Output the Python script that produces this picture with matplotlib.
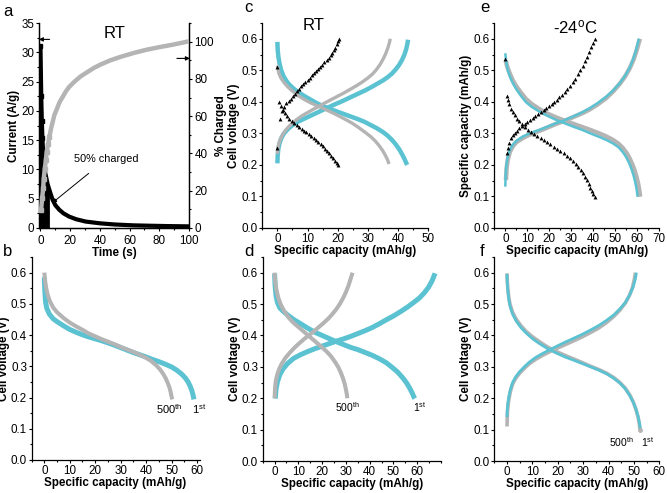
import numpy as np
import matplotlib
matplotlib.use('Agg')
import matplotlib.pyplot as plt
from matplotlib.ticker import MultipleLocator

plt.rcParams['font.family'] = ['Liberation Sans', 'DejaVu Sans']
plt.rcParams['font.size'] = 8
plt.rcParams['mathtext.default'] = 'regular'
plt.rcParams['axes.facecolor'] = 'none'

BLUE = '#5bc2d2'
GREY = '#b4b4b4'

# ---- panel a : current and % charged vs time
t_cur = [0.0, 0.5, 0.9, 1.3, 1.8, 2.4, 3.0, 3.8, 4.8, 6.0, 7.0, 8.2, 10.0, 12.7, 15.5, 19.3, 24.0, 30.4, 40.0, 50.0, 62.7, 75.0, 85.0, 100.0]
current = [31.0, 22.6, 18.3, 15.3, 12.8, 10.8, 9.6, 8.7, 7.5, 6.5, 5.7, 4.8, 3.9, 3.1, 2.5, 1.95, 1.5, 1.1, 0.8, 0.6, 0.45, 0.38, 0.33, 0.28]
t_pct = [0.4, 1.1, 1.8, 2.2, 2.9, 3.6, 4.2, 5.1, 6.0, 7.1, 8.2, 9.3, 11.1, 12.9, 14.9, 17.1, 19.3, 22.7, 27.1, 31.6, 36.0, 40.4, 47.1, 53.8, 62.7, 71.6, 80.4, 89.3, 100.0]
pct_charged = [9.7, 15.9, 21.2, 26.5, 31.8, 36.3, 40.8, 45.3, 48.8, 53.3, 56.9, 60.5, 64.0, 67.6, 70.3, 73.3, 75.7, 78.4, 81.4, 83.7, 85.9, 87.7, 90.0, 91.8, 93.9, 95.7, 97.1, 98.4, 100.2]

# ---- panel b : discharge, 1st vs 500th cycle
b_cap_1st = [0.0, 0.2, 0.5, 1.0, 2.0, 3.5, 5.0, 7.5, 10, 12.5, 15, 17.5, 20, 22.5, 25, 27.5, 30, 32.5, 35, 37.5, 40, 42.5, 45, 47.5, 50, 52, 54, 55.5, 56.5, 57.3, 58.0, 58.5, 58.8]
b_v_1st = [0.585, 0.54, 0.505, 0.485, 0.467, 0.452, 0.443, 0.43, 0.418, 0.409, 0.401, 0.394, 0.388, 0.382, 0.375, 0.368, 0.36, 0.352, 0.344, 0.337, 0.33, 0.322, 0.315, 0.307, 0.298, 0.288, 0.275, 0.262, 0.25, 0.237, 0.222, 0.207, 0.194]
b_cap_500 = [0.0, 0.3, 0.7, 1.3, 2.2, 3.5, 5.0, 7.5, 10, 12.5, 15, 17.5, 20, 22.5, 25, 27.5, 30, 32.5, 35, 37.5, 40, 42, 44, 45.5, 46.7, 47.7, 48.5, 49.2, 49.7, 50.1, 50.3]
b_v_500 = [0.60, 0.575, 0.552, 0.53, 0.508, 0.488, 0.473, 0.455, 0.44, 0.428, 0.417, 0.405, 0.396, 0.387, 0.379, 0.371, 0.362, 0.354, 0.346, 0.337, 0.327, 0.317, 0.303, 0.29, 0.276, 0.262, 0.247, 0.232, 0.216, 0.20, 0.194]

# ---- panel c : RT charge/discharge
c_dis_cap_blue = [0.0, 0.1, 0.3, 0.7, 1.2, 2.0, 3.0, 4.0, 5.5, 7.0, 9.0, 11, 13, 15, 17, 19, 21, 23, 25, 27, 29, 31, 33, 35, 36.5, 38, 39.3, 40.4, 41.3, 42.1, 42.7, 43.0]
c_dis_v_blue = [0.59, 0.565, 0.545, 0.522, 0.502, 0.482, 0.466, 0.454, 0.441, 0.43, 0.418, 0.407, 0.396, 0.387, 0.379, 0.372, 0.365, 0.358, 0.351, 0.344, 0.336, 0.326, 0.316, 0.304, 0.293, 0.279, 0.264, 0.249, 0.234, 0.219, 0.206, 0.20]
c_dis_cap_grey = [0.0, 0.5, 1.2, 2.2, 3.5, 5.0, 7.0, 9.0, 11, 13, 15, 17, 19, 21, 23, 25, 27, 29, 31, 32.5, 33.8, 34.9, 35.8, 36.5, 37.0]
c_dis_v_grey = [0.515, 0.49, 0.475, 0.461, 0.447, 0.434, 0.419, 0.407, 0.397, 0.388, 0.38, 0.371, 0.362, 0.352, 0.342, 0.331, 0.318, 0.304, 0.289, 0.275, 0.26, 0.245, 0.23, 0.216, 0.203]
c_chg_cap_blue = [0.0, 0.1, 0.3, 0.7, 1.3, 2.2, 3.5, 5.0, 7.0, 9.0, 11, 13, 15, 17, 19, 21, 23, 25, 27, 29, 31, 33, 35, 36.5, 38, 39.3, 40.4, 41.3, 42.1, 42.7, 43.1, 43.3]
c_chg_v_blue = [0.205, 0.23, 0.25, 0.268, 0.285, 0.30, 0.314, 0.326, 0.338, 0.347, 0.356, 0.365, 0.374, 0.383, 0.392, 0.40, 0.409, 0.418, 0.427, 0.436, 0.446, 0.457, 0.468, 0.478, 0.49, 0.504, 0.518, 0.533, 0.55, 0.568, 0.585, 0.597]
c_chg_cap_grey = [0.0, 0.2, 0.5, 1.0, 1.8, 2.8, 4.0, 6.0, 8.0, 10, 12, 14, 16, 18, 20, 22, 24, 26, 28, 30, 31.5, 32.8, 34, 35, 35.9, 36.6, 37.1, 37.4]
c_chg_v_grey = [0.235, 0.255, 0.268, 0.282, 0.297, 0.311, 0.324, 0.341, 0.355, 0.366, 0.377, 0.387, 0.398, 0.408, 0.418, 0.428, 0.439, 0.45, 0.462, 0.476, 0.488, 0.502, 0.518, 0.535, 0.553, 0.571, 0.587, 0.60]
c_chg_cap_tri = [0.0, 0.9, 1.6, 2.3, 3.0, 3.7, 4.4, 5.1, 5.8, 6.5, 7.2, 7.9, 8.6, 9.3, 10.0, 10.7, 11.4, 12.1, 12.8, 13.5, 14.2, 14.9, 15.6, 16.3, 17.0, 17.6, 18.2, 18.7, 19.2, 19.6, 20.0, 20.3]
c_chg_v_tri = [0.255, 0.345, 0.372, 0.385, 0.395, 0.403, 0.41, 0.418, 0.426, 0.433, 0.441, 0.449, 0.456, 0.463, 0.47, 0.477, 0.484, 0.491, 0.497, 0.504, 0.511, 0.518, 0.525, 0.532, 0.539, 0.547, 0.555, 0.563, 0.572, 0.582, 0.592, 0.60]
c_dis_cap_tri = [0.0, 0.6, 1.2, 1.8, 2.5, 3.2, 4.0, 4.8, 5.6, 6.4, 7.2, 8.0, 8.8, 9.6, 10.4, 11.2, 12.0, 12.8, 13.6, 14.4, 15.1, 15.8, 16.5, 17.2, 17.8, 18.4, 19.0, 19.6, 20.2]
c_dis_v_tri = [0.51, 0.40, 0.386, 0.375, 0.364, 0.355, 0.347, 0.34, 0.333, 0.327, 0.321, 0.315, 0.309, 0.303, 0.297, 0.291, 0.285, 0.279, 0.273, 0.266, 0.259, 0.252, 0.245, 0.237, 0.229, 0.221, 0.213, 0.206, 0.20]

# ---- panel d : 1st vs 500th charge/discharge
d_dis_cap_1st = [0.0, 0.2, 0.6, 1.2, 2.2, 3.5, 5.5, 8, 11, 14, 17, 20, 23, 26, 29, 32, 35, 38, 41, 44, 47, 49.5, 51.8, 53.8, 55.4, 56.7, 57.8, 58.6, 59.0]
d_dis_v_1st = [0.597, 0.56, 0.527, 0.505, 0.488, 0.478, 0.465, 0.451, 0.437, 0.423, 0.41, 0.40, 0.39, 0.38, 0.371, 0.362, 0.355, 0.346, 0.337, 0.326, 0.313, 0.298, 0.283, 0.266, 0.25, 0.234, 0.218, 0.204, 0.199]
d_chg_cap_1st = [0.3, 0.6, 1.2, 2.2, 3.5, 5.5, 8, 11, 14, 17, 20, 23, 26, 29, 32, 35, 38, 41, 44, 47, 50, 53, 56, 58.5, 61, 63, 64.8, 66.3, 67.5]
d_chg_v_1st = [0.199, 0.228, 0.252, 0.275, 0.293, 0.311, 0.327, 0.339, 0.349, 0.358, 0.366, 0.374, 0.382, 0.389, 0.397, 0.406, 0.415, 0.425, 0.437, 0.45, 0.462, 0.476, 0.491, 0.505, 0.52, 0.536, 0.554, 0.575, 0.598]
d_dis_cap_500 = [0.0, 0.3, 0.8, 1.5, 2.5, 4, 6, 8, 10, 12, 14, 16, 18, 20, 22, 23.8, 25.4, 26.8, 27.9, 28.8, 29.5, 30.0, 30.4, 30.6]
d_dis_v_500 = [0.60, 0.57, 0.545, 0.522, 0.50, 0.478, 0.456, 0.44, 0.427, 0.414, 0.401, 0.388, 0.375, 0.362, 0.348, 0.333, 0.316, 0.299, 0.281, 0.263, 0.245, 0.228, 0.212, 0.20]
d_chg_cap_500 = [0.0, 0.2, 0.5, 1.0, 1.8, 3, 4.5, 6.5, 8.5, 10.5, 12.5, 14.5, 16.5, 18.5, 20.5, 22.5, 24.3, 26, 27.5, 28.8, 30, 31, 31.8, 32.5, 32.8]
d_chg_v_500 = [0.20, 0.232, 0.255, 0.272, 0.291, 0.31, 0.328, 0.346, 0.362, 0.376, 0.389, 0.401, 0.413, 0.426, 0.439, 0.453, 0.468, 0.484, 0.501, 0.519, 0.538, 0.557, 0.576, 0.593, 0.60]

# ---- panel e : -24 C
e_dis_cap_blue = [0.0, 0.3, 0.7, 1.3, 2.2, 3.5, 5, 7, 9.4, 12, 15.5, 19, 23, 27, 31, 35, 39, 43, 46, 49, 51.5, 53.5, 55, 56.3, 57.3, 58.2, 58.9, 59.5, 59.9, 60.1]
e_dis_v_blue = [0.554, 0.535, 0.515, 0.497, 0.478, 0.458, 0.44, 0.42, 0.399, 0.384, 0.369, 0.356, 0.343, 0.332, 0.321, 0.311, 0.299, 0.288, 0.279, 0.268, 0.256, 0.24, 0.224, 0.206, 0.188, 0.169, 0.15, 0.13, 0.113, 0.099]
e_dis_cap_grey = [0.3, 0.7, 1.3, 2.2, 3.5, 5, 7, 9.4, 12, 15.5, 19, 23, 27, 31, 35, 39, 43, 46, 49, 51.5, 53.5, 55.3, 56.7, 57.9, 58.9, 59.7, 60.4, 60.9, 61.3]
e_dis_v_grey = [0.53, 0.516, 0.503, 0.487, 0.467, 0.449, 0.43, 0.409, 0.393, 0.377, 0.363, 0.351, 0.34, 0.33, 0.32, 0.31, 0.299, 0.29, 0.279, 0.267, 0.253, 0.236, 0.218, 0.199, 0.18, 0.16, 0.14, 0.12, 0.099]
e_chg_cap_blue = [0.0, 0.1, 0.3, 0.6, 1.1, 2.0, 3.3, 5.0, 7.9, 11, 15.5, 19, 23, 27, 31, 35, 38.4, 42, 46, 49, 52, 54.5, 56.6, 58.1, 59.3, 60.1, 60.7]
e_chg_v_blue = [0.131, 0.155, 0.184, 0.205, 0.226, 0.246, 0.263, 0.276, 0.29, 0.30, 0.311, 0.321, 0.332, 0.342, 0.354, 0.367, 0.38, 0.396, 0.417, 0.436, 0.459, 0.483, 0.509, 0.535, 0.561, 0.583, 0.60]
e_chg_cap_grey = [0.3, 0.6, 1.1, 2.0, 3.3, 5.0, 7.9, 11, 15.5, 19, 23, 27, 31, 35, 38.4, 42, 46, 49, 52, 54.5, 56.6, 58.3, 59.6, 60.5, 61.2]
e_chg_v_grey = [0.152, 0.19, 0.216, 0.24, 0.258, 0.272, 0.285, 0.296, 0.308, 0.318, 0.33, 0.34, 0.352, 0.364, 0.376, 0.392, 0.413, 0.433, 0.457, 0.481, 0.507, 0.534, 0.561, 0.583, 0.60]
e_chg_cap_tri = [0.6, 1.2, 1.8, 2.6, 3.4, 4.2, 5.2, 6.4, 7.6, 8.8, 10.0, 11.2, 12.5, 13.7, 15.0, 16.2, 17.4, 18.6, 19.8, 21.0, 22.2, 23.4, 24.6, 25.8, 27.0, 28.2, 29.4, 30.6, 31.8, 32.9, 34.0, 35.1, 36.1, 37.1, 38.0, 38.9, 39.8, 40.6]
e_chg_v_tri = [0.237, 0.255, 0.27, 0.285, 0.294, 0.301, 0.309, 0.316, 0.323, 0.329, 0.335, 0.341, 0.348, 0.354, 0.361, 0.367, 0.373, 0.38, 0.386, 0.393, 0.40, 0.407, 0.414, 0.422, 0.43, 0.44, 0.45, 0.462, 0.474, 0.487, 0.50, 0.514, 0.528, 0.543, 0.558, 0.573, 0.588, 0.60]
e_dis_cap_tri = [0.0, 0.6, 1.2, 1.8, 2.6, 3.4, 4.3, 5.3, 6.4, 7.6, 8.8, 10.2, 11.6, 13.0, 14.5, 16.0, 17.5, 19.0, 20.5, 22.0, 23.5, 25.0, 26.5, 28.0, 29.4, 30.7, 32.0, 33.2, 34.3, 35.3, 36.2, 37.1, 37.9, 38.7, 39.4, 40.0, 40.6]
e_dis_v_tri = [0.535, 0.419, 0.405, 0.392, 0.378, 0.367, 0.357, 0.347, 0.338, 0.329, 0.32, 0.312, 0.305, 0.299, 0.292, 0.286, 0.279, 0.272, 0.265, 0.258, 0.251, 0.244, 0.237, 0.229, 0.221, 0.213, 0.204, 0.194, 0.184, 0.174, 0.163, 0.152, 0.14, 0.128, 0.117, 0.107, 0.099]

# ---- panel f : -24 C, 1st vs 500th
f_dis_cap_1st = [0.0, 0.1, 0.3, 0.7, 1.2, 2.2, 3.6, 5.5, 7.5, 10, 12.8, 16, 19.4, 23, 26, 29.5, 32.6, 36, 39.2, 42, 44.5, 46.6, 48.4, 49.8, 50.9, 51.7, 52.2, 52.6]
f_dis_v_1st = [0.596, 0.57, 0.545, 0.515, 0.493, 0.468, 0.446, 0.425, 0.408, 0.39, 0.374, 0.358, 0.344, 0.331, 0.322, 0.311, 0.301, 0.29, 0.278, 0.264, 0.248, 0.23, 0.208, 0.186, 0.163, 0.14, 0.12, 0.10]
f_chg_cap_1st = [0.0, 0.2, 0.7, 1.3, 2.2, 3.4, 4.9, 6.8, 8.8, 11.3, 14.1, 17, 19.4, 23, 26, 29.5, 32.6, 36, 39.2, 42, 44.5, 46.6, 48.4, 49.7, 50.5, 51.0]
f_chg_v_1st = [0.14, 0.175, 0.204, 0.227, 0.25, 0.268, 0.284, 0.30, 0.315, 0.33, 0.343, 0.355, 0.365, 0.379, 0.39, 0.403, 0.416, 0.431, 0.448, 0.465, 0.485, 0.505, 0.53, 0.555, 0.578, 0.60]
f_dis_cap_500 = [0.0, 0.1, 0.3, 0.7, 1.2, 2.2, 3.6, 5.5, 7.5, 10, 12.8, 16, 19.4, 23, 26, 29.5, 32.6, 36, 39.2, 42, 44.5, 46.6, 48.4, 49.8, 50.8, 51.6, 52.1, 52.4]
f_dis_v_500 = [0.598, 0.575, 0.552, 0.522, 0.499, 0.474, 0.452, 0.431, 0.413, 0.396, 0.38, 0.363, 0.349, 0.336, 0.326, 0.314, 0.303, 0.292, 0.28, 0.266, 0.25, 0.232, 0.21, 0.187, 0.164, 0.141, 0.12, 0.10]
f_chg_cap_500 = [0.0, 0.2, 0.7, 1.3, 2.2, 3.4, 4.9, 6.8, 8.8, 11.3, 14.1, 17, 19.4, 23, 26, 29.5, 32.6, 36, 39.2, 42, 44.5, 46.6, 48.2, 49.4, 50.1, 50.6]
f_chg_v_500 = [0.11, 0.16, 0.195, 0.22, 0.245, 0.263, 0.279, 0.295, 0.31, 0.324, 0.337, 0.349, 0.358, 0.371, 0.382, 0.395, 0.408, 0.423, 0.441, 0.46, 0.481, 0.503, 0.527, 0.552, 0.576, 0.60]

W, H = 667, 493
fig = plt.figure(figsize=(W / 100, H / 100), dpi=100, facecolor='white')
TICK_FS = 8.4
LAB_FS = 8.4


def px_axes(x0, x1, ytop, ybot):
    return fig.add_axes([x0 / W, 1 - ybot / H, (x1 - x0) / W, (ybot - ytop) / H])


def style(ax, right=False):
    ax.spines['top'].set_visible(False)
    if not right:
        ax.spines['right'].set_visible(False)
    for s in ax.spines.values():
        s.set_linewidth(0.9)
    ax.tick_params(which='major', direction='out', length=2.5, width=0.8, labelsize=TICK_FS, pad=0.8)
    ax.tick_params(which='minor', direction='out', length=1.5, width=0.8)


def volt_axes(ax, xmax, xlab='Specific capacity (mAh/g)', ylab='Cell voltage (V)', ylpad=1):
    ax.set_ylim(0, 0.65)
    ax.set_xlim(-5, xmax)
    ax.yaxis.set_minor_locator(MultipleLocator(0.05))
    ax.xaxis.set_major_locator(MultipleLocator(10))
    ax.xaxis.set_minor_locator(MultipleLocator(5))
    ax.set_yticks(np.arange(0, 0.61, 0.1))
    ax.set_yticklabels(['0.0', '0.1', '0.2', '0.3', '0.4', '0.5', '0.6'])
    ax.set_xlabel(xlab, fontweight='bold', fontsize=LAB_FS, labelpad=0.5)
    ax.set_ylabel(ylab, fontweight='bold', fontsize=LAB_FS, labelpad=ylpad)
    style(ax)


# a
ax = px_axes(39, 189, 23, 228)
ax.set_xlim(-1, 100)
ax.set_ylim(0, 35)
t_arr = np.array(t_cur)
i_arr = np.array(current)
early = t_arr <= 6.0
ax.fill_between(t_arr[early], 0, i_arr[early], color='black', lw=0)
ax.plot(t_arr, i_arr, color='black', lw=3, solid_capstyle='butt')
ax.plot([0, 0], [0, current[0]], color='black', lw=1.5)
ax.plot(t_cur[:4], current[:4], 's', color='black', ms=2.5)
ax.xaxis.set_major_locator(MultipleLocator(20))
ax.xaxis.set_minor_locator(MultipleLocator(10))
ax.yaxis.set_major_locator(MultipleLocator(5))
ax.yaxis.set_minor_locator(MultipleLocator(2.5))
ax.set_xlabel('Time (s)', fontweight='bold', fontsize=LAB_FS, labelpad=0)
ax.set_ylabel('Current (A/g)', fontweight='bold', fontsize=LAB_FS, labelpad=1)
style(ax, right=True)
ax.tick_params(axis='x', which='major', pad=2.2)
ax.annotate('', xy=(-3, 32.2), xytext=(8, 32.2), annotation_clip=False,
            arrowprops=dict(arrowstyle='-|>', color='black', lw=0.8, mutation_scale=6))
ax.annotate('50% charged', xy=(8, 4.3), xytext=(44, 11.7), ha='center', va='center', fontsize=7.8,
            arrowprops=dict(arrowstyle='-|>', color='black', lw=0.7, mutation_scale=6, shrinkB=0, shrinkA=7))
ax.text(50, 34.5, 'RT', ha='center', va='top', fontsize=12)
ax2 = ax.twinx()
ax2.set_ylim(0, 110)
ax2.plot(t_pct, pct_charged, color=GREY, lw=3.2, solid_capstyle='butt', zorder=3)
ax2.plot(t_pct[:9], pct_charged[:9], 's', color=GREY, ms=2.5, zorder=3)
ax2.yaxis.set_major_locator(MultipleLocator(20))
ax2.yaxis.set_minor_locator(MultipleLocator(10))
ax2.set_ylabel('% Charged', fontweight='bold', fontsize=LAB_FS, labelpad=1)
style(ax2, right=True)
ax2.tick_params(axis='y', which='major', pad=1.4)
ax2.annotate('', xy=(102.5, 91), xytext=(90, 91),
             arrowprops=dict(arrowstyle='-|>', color='black', lw=0.8, mutation_scale=6), annotation_clip=False)
fig.text(3 / W, 1 - 12 / H, 'a', fontsize=12, va='center')

# b
ax = px_axes(31.6, 199.5, 257, 460)
ax.plot(b_cap_1st, b_v_1st, color=BLUE, lw=3.6, solid_capstyle='butt')
ax.plot(b_cap_500, b_v_500, color=GREY, lw=2.9, solid_capstyle='butt')
ax.text(49, 0.163, '500$^{th}$', ha='center', va='center', fontsize=8)
ax.text(61, 0.163, '1$^{st}$', ha='center', va='center', fontsize=8)
volt_axes(ax, 61, ylpad=0.3)
fig.text(3 / W, 1 - 252 / H, 'b', fontsize=12, va='center')

# c
ax = px_axes(262.3, 428.3, 23, 228)
ax.plot(c_dis_cap_blue, c_dis_v_blue, color=BLUE, lw=3.2, solid_capstyle='butt')
ax.plot(c_chg_cap_blue, c_chg_v_blue, color=BLUE, lw=3.2, solid_capstyle='butt')
ax.plot(c_dis_cap_grey, c_dis_v_grey, color=GREY, lw=2.4, solid_capstyle='butt')
ax.plot(c_chg_cap_grey, c_chg_v_grey, color=GREY, lw=2.4, solid_capstyle='butt')
ax.plot(c_chg_cap_tri, c_chg_v_tri, '^', color='black', ms=2.8, mew=0)
ax.plot(c_dis_cap_tri, c_dis_v_tri, '^', color='black', ms=2.8, mew=0)
ax.text(12, 0.665, 'RT', ha='center', va='top', fontsize=12)
volt_axes(ax, 50)
fig.text(244 / W, 1 - 8 / H, 'c', fontsize=12, va='center')

# d
ax = px_axes(262.7, 441, 257, 461)
ax.plot(d_dis_cap_1st, d_dis_v_1st, color=BLUE, lw=3.6, solid_capstyle='butt')
ax.plot(d_chg_cap_1st, d_chg_v_1st, color=BLUE, lw=3.6, solid_capstyle='butt')
ax.plot(d_dis_cap_500, d_dis_v_500, color=GREY, lw=2.9, solid_capstyle='butt')
ax.plot(d_chg_cap_500, d_chg_v_500, color=GREY, lw=2.9, solid_capstyle='butt')
ax.text(30.5, 0.172, '500$^{th}$', ha='center', va='center', fontsize=7.5)
ax.text(61, 0.172, '1$^{st}$', ha='center', va='center', fontsize=7.5)
volt_axes(ax, 70)
ax.set_xticks([0, 10, 20, 30, 40, 50, 60])
fig.text(244 / W, 1 - 252 / H, 'd', fontsize=12, va='center')

# e
ax = px_axes(494.3, 659.3, 23, 228)
ax.plot(e_dis_cap_grey, e_dis_v_grey, color=GREY, lw=3.2, solid_capstyle='butt')
ax.plot(e_chg_cap_grey, e_chg_v_grey, color=GREY, lw=3.2, solid_capstyle='butt')
ax.plot(e_dis_cap_blue, e_dis_v_blue, color=BLUE, lw=1.8, solid_capstyle='butt')
ax.plot(e_chg_cap_blue, e_chg_v_blue, color=BLUE, lw=1.8, solid_capstyle='butt')
ax.plot(e_chg_cap_tri, e_chg_v_tri, '^', color='black', ms=2.8, mew=0)
ax.plot(e_dis_cap_tri, e_dis_v_tri, '^', color='black', ms=2.8, mew=0)
ax.text(32, 0.665, '-24$^{o}$C', ha='center', va='top', fontsize=12)
volt_axes(ax, 70, ylab='Specific capacity (mAh/g)')
fig.text(480 / W, 1 - 7 / H, 'e', fontsize=12, va='center')

# f
ax = px_axes(494.3, 659.3, 257, 461)
ax.plot(f_dis_cap_500, f_dis_v_500, color=GREY, lw=2.6, solid_capstyle='butt')
ax.plot(f_chg_cap_500, f_chg_v_500, color=GREY, lw=2.6, solid_capstyle='butt')
ax.plot(f_dis_cap_1st, f_dis_v_1st, color=BLUE, lw=2.0, solid_capstyle='butt')
ax.plot(f_chg_cap_1st, f_chg_v_1st, color=BLUE, lw=2.0, solid_capstyle='butt')
ax.plot(f_dis_cap_500[-1:], f_dis_v_500[-1:], 'o', color=GREY, ms=2.5)
ax.text(45, 0.06, '500$^{th}$', ha='center', va='center', fontsize=7.5)
ax.text(55.5, 0.06, '1$^{st}$', ha='center', va='center', fontsize=7.5)
volt_axes(ax, 60)
fig.text(480 / W, 1 - 251 / H, 'f', fontsize=12, va='center')

fig.savefig('out.png', dpi=100, facecolor='white')
